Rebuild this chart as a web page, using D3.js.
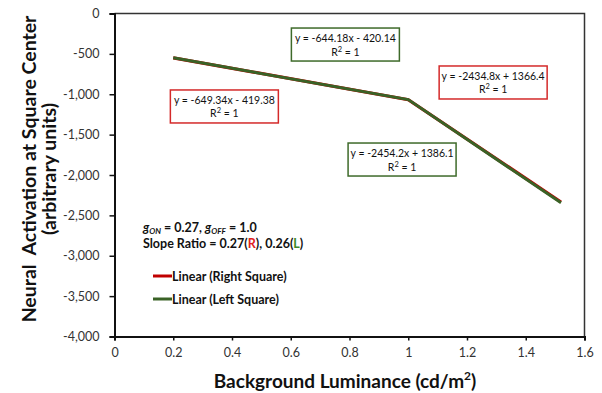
<!DOCTYPE html>
<html>
<head>
<meta charset="utf-8">
<script src="https://cdn.jsdelivr.net/npm/d3@7"></script>
<style>
  body { margin: 0; background: #fff; }
  text { font-family: Lato, "Open Sans", sans-serif; }
</style>
</head>
<body>
<svg id="chart" width="602" height="393"></svg>
<script>
// data
const luminance = [0.2, 1.0, 1.52];
const rightSquare = [-549, -1068, -2334];
const leftSquare = [-549, -1066, -2344];
const xTicks = [0, 0.2, 0.4, 0.6, 0.8, 1, 1.2, 1.4, 1.6];
const yTicks = [0, -500, -1000, -1500, -2000, -2500, -3000, -3500, -4000];
// trendline labels, anchored at box top-centre (data units)
const fits = [
  { eq: "y = -649.34x - 419.38", color: "#d42a2a", x: 0.374, y: -947 },
  { eq: "y = -644.18x - 420.14", color: "#3e6a2a", x: 0.786, y: -180 },
  { eq: "y = -2434.8x + 1366.4", color: "#d42a2a", x: 1.289, y: -650 },
  { eq: "y = -2454.2x + 1386.1", color: "#3e6a2a", x: 0.979, y: -1604 }
];

const margin = { top: 13.5, right: 17.5, bottom: 56.5, left: 114.5 };
const width = 602 - margin.left - margin.right;
const height = 393 - margin.top - margin.bottom;

const svg = d3.select('#chart');
const g = svg.append('g').attr('transform', `translate(${margin.left},${margin.top})`);

const x = d3.scaleLinear().domain([0, 1.6]).range([0, width]);
const y = d3.scaleLinear().domain([-4000, 0]).range([height, 0]);

// frame top / right
g.append('path')
  .attr('d', `M0,0H${width}V${height}`)
  .attr('fill', 'none')
  .attr('stroke', '#333')
  .attr('stroke-width', 1.5);

const yFormat = d => d3.format(',')(d).replace('\u2212', '-');
const xAxis = g.append('g')
  .attr('transform', `translate(0,${height})`)
  .call(d3.axisBottom(x).tickValues(xTicks).tickSize(4).tickPadding(8).tickFormat(d3.format('')));
const yAxis = g.append('g')
  .call(d3.axisLeft(y).tickValues(yTicks).tickSize(5).tickPadding(10).tickFormat(yFormat));

[xAxis, yAxis].forEach(a => {
  a.select('.domain').attr('stroke', '#111').attr('stroke-width', 2);
  a.selectAll('.tick line').attr('stroke', '#111').attr('stroke-width', 1.5);
  a.selectAll('.tick text').attr('font-size', 12.5).attr('fill', '#333')
    .style('font-family', 'Lato, sans-serif');
});

const line = d3.line().x(d => x(d[0])).y(d => y(d[1]));

g.append('path')
  .datum(luminance.map((v, i) => [v, rightSquare[i]]))
  .attr('d', line)
  .attr('fill', 'none')
  .attr('stroke', '#c00000')
  .attr('stroke-width', 3.2);

g.append('path')
  .datum(luminance.map((v, i) => [v, leftSquare[i]]))
  .attr('d', line)
  .attr('fill', 'none')
  .attr('stroke', '#3a6226')
  .attr('stroke-width', 3);

// trendline labels
const boxW = 108, boxH = 33;
fits.forEach(f => {
  const cx = x(f.x), cy = y(f.y);
  const lab = g.append('g').attr('transform', `translate(${cx},${cy})`);
  lab.append('rect')
    .attr('x', -boxW / 2).attr('y', 0)
    .attr('width', boxW).attr('height', boxH)
    .attr('fill', '#fff')
    .attr('stroke', f.color)
    .attr('stroke-width', 1.5);
  lab.append('text')
    .attr('y', 14).attr('text-anchor', 'middle')
    .attr('font-size', 10.5).attr('fill', '#111')
    .text(f.eq);
  const r2 = lab.append('text')
    .attr('y', 27.5).attr('text-anchor', 'middle')
    .attr('font-size', 10.5).attr('fill', '#111');
  r2.append('tspan').text('R');
  r2.append('tspan').attr('font-size', 7.5).attr('dy', -4).text('2');
  r2.append('tspan').attr('dy', 4).text(' = 1');
});

// gON / gOFF note
const note = svg.append('text')
  .attr('x', 143).attr('y', 232)
  .attr('font-size', 12.5).attr('font-weight', 'bold').attr('fill', '#111');
note.append('tspan').attr('font-style', 'italic').text('g');
note.append('tspan').attr('font-style', 'italic').attr('font-size', 8).attr('dy', 2).text('ON');
note.append('tspan').attr('dy', -2).text(' = 0.27, ');
note.append('tspan').attr('font-style', 'italic').text('g');
note.append('tspan').attr('font-style', 'italic').attr('font-size', 8).attr('dy', 2).text('OFF');
note.append('tspan').attr('dy', -2).text(' = 1.0');

const ratio = svg.append('text')
  .attr('x', 143).attr('y', 248)
  .attr('font-size', 12.5).attr('font-weight', 'bold').attr('fill', '#111');
ratio.append('tspan').text('Slope Ratio = 0.27(');
ratio.append('tspan').attr('fill', '#e02020').text('R');
ratio.append('tspan').text('), 0.26(');
ratio.append('tspan').attr('fill', '#3e8a2a').text('L');
ratio.append('tspan').text(')');

// legend
const legendItems = [
  { name: 'Linear (Right Square)', color: '#c00000', y: 276 },
  { name: 'Linear (Left Square)', color: '#3a6226', y: 299 }
];
legendItems.forEach(d => {
  svg.append('line')
    .attr('x1', 153).attr('x2', 172).attr('y1', d.y).attr('y2', d.y)
    .attr('stroke', d.color).attr('stroke-width', 3);
  svg.append('text')
    .attr('x', 172).attr('y', d.y + 4.5)
    .attr('font-size', 12.5).attr('font-weight', 'bold').attr('fill', '#111')
    .text(d.name);
});

// axis titles
const xt = svg.append('text')
  .attr('x', 345).attr('y', 388)
  .attr('text-anchor', 'middle')
  .attr('font-size', 19).attr('font-weight', 'bold').attr('fill', '#111');
xt.append('tspan').text('Background Luminance (cd/m');
xt.append('tspan').attr('font-size', 12).attr('dy', -8).text('2');
xt.append('tspan').attr('dy', 8).text(')');

const yt = svg.append('text')
  .attr('transform', 'translate(0,169) rotate(-90)')
  .attr('text-anchor', 'middle')
  .attr('font-size', 19.5).attr('font-weight', 'bold').attr('fill', '#111')
  .style('white-space', 'pre');
yt.append('tspan').attr('x', 0).attr('y', 36).text('Neural  Activation at Square Center');
yt.append('tspan').attr('x', 0).attr('y', 56).text('(arbitrary units)');
</script>
</body>
</html>
